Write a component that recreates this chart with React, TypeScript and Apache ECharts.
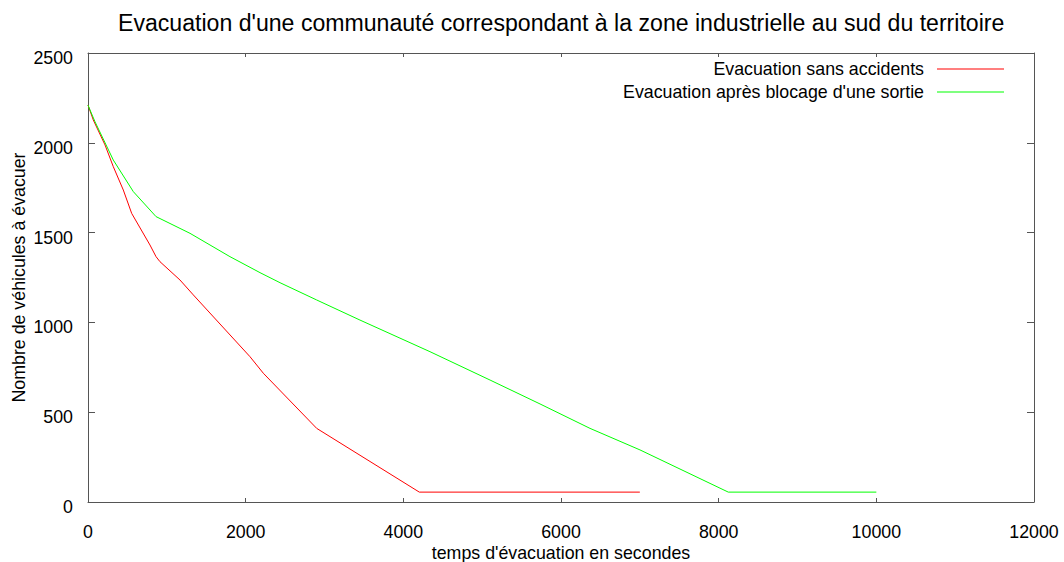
import React, { useEffect, useRef } from "react";
import * as echarts from "echarts";

const titleText = "Evacuation d'une communauté correspondant à la zone industrielle au sud du territoire";
const xAxisTitle = "temps d'évacuation en secondes";
const yAxisTitle = "Nombre de véhicules à évacuer";
const seriesNames = ["Evacuation sans accidents", "Evacuation après blocage d'une sortie"];

// Evacuation without accidents: [seconds, vehicles remaining]
const redX = [0, 67, 216, 321, 448, 554, 786, 863, 913, 1167, 1336, 2055, 2224, 2901, 4203, 7000];
const redY = [2210, 2127, 1988, 1867, 1737, 1607, 1431, 1366, 1338, 1236, 1153, 809, 717, 410, 55, 55];

// Evacuation after blocking of one exit
const greenX = [0, 25, 89, 321, 575, 863, 1294, 1801, 2182, 2436, 2900, 3450, 4338, 5100, 5734, 6368, 7002, 8122, 10000];
const greenY = [2210, 2183, 2117, 1904, 1728, 1589, 1496, 1366, 1277, 1221, 1125, 1013, 837, 679, 546, 410, 290, 55, 55];

const xMin = 0, xMax = 12000, xStep = 2000;
const yMin = 0, yMax = 2500, yStep = 500;

const FONT = "'Liberation Sans', Arial, sans-serif";
const AXIS_COLOR = "#555555";
const FS = 17.8;

export default function App() {
  const ref = useRef<HTMLDivElement>(null);
  useEffect(() => {
    if (!ref.current) return;
    const chart = echarts.init(ref.current, null, { renderer: "svg" });
    const zip = (xs: number[], ys: number[]) => xs.map((x, i) => [x, ys[i]]);
    const axisLine = { show: true, onZero: false, lineStyle: { color: AXIS_COLOR, width: 1 } };
    const plain = (v: number) => String(v);
    chart.setOption({
      animation: false,
      backgroundColor: "#ffffff",
      textStyle: { fontFamily: FONT, color: "#000" },
      title: {
        text: titleText,
        left: 113,
        top: 6,
        textStyle: { fontFamily: FONT, fontSize: 23.1, fontWeight: "normal", color: "#000" },
      },
      legend: {
        orient: "vertical",
        right: 55,
        top: 55,
        align: "right",
        itemWidth: 67,
        itemHeight: 1,
        itemGap: 5,
        icon: "rect",
        textStyle: { fontFamily: FONT, fontSize: FS, color: "#000", padding: [0, 8, 0, 0] },
        data: seriesNames,
      },
      grid: { left: 88, right: 30, top: 53, bottom: 60, containLabel: false, outerBoundsMode: "none" },
      xAxis: [
        {
          type: "value",
          min: xMin,
          max: xMax,
          interval: xStep,
          name: xAxisTitle,
          nameLocation: "middle",
          nameGap: 42,
          nameMoveOverlap: false,
          nameTextStyle: { fontFamily: FONT, fontSize: FS, color: "#000" },
          axisLine,
          axisTick: { show: true, inside: true, length: 4, lineStyle: { color: AXIS_COLOR } },
          axisLabel: { fontFamily: FONT, fontSize: FS, color: "#000", margin: 21, formatter: plain },
          splitLine: { show: false },
        },
        {
          type: "value",
          position: "top",
          min: xMin,
          max: xMax,
          interval: xStep,
          axisLine,
          axisTick: { show: true, inside: true, length: 4, lineStyle: { color: AXIS_COLOR } },
          axisLabel: { show: false },
          splitLine: { show: false },
        },
      ],
      yAxis: [
        {
          type: "value",
          min: yMin,
          max: yMax,
          interval: yStep,
          name: yAxisTitle,
          nameLocation: "middle",
          nameGap: 60,
          nameMoveOverlap: false,
          nameTextStyle: { fontFamily: FONT, fontSize: FS, color: "#000" },
          axisLine,
          axisTick: { show: true, inside: true, length: 7, lineStyle: { color: AXIS_COLOR } },
          axisLabel: {
            fontFamily: FONT,
            fontSize: FS,
            color: "#000",
            margin: 15,
            formatter: (v: number) => "{a|" + String(v) + "}",
            rich: { a: { fontFamily: FONT, fontSize: FS, color: "#000", padding: [10, 0, 0, 0] } },
          },
          splitLine: { show: false },
        },
        {
          type: "value",
          position: "right",
          min: yMin,
          max: yMax,
          interval: yStep,
          axisLine,
          axisTick: { show: true, inside: true, length: 7, lineStyle: { color: AXIS_COLOR } },
          axisLabel: { show: false },
          splitLine: { show: false },
        },
      ],
      series: [
        {
          name: seriesNames[0],
          type: "line",
          xAxisIndex: 0,
          yAxisIndex: 0,
          data: zip(redX, redY),
          showSymbol: false,
          symbol: "none",
          lineStyle: { color: "#ff0000", width: 1 },
          itemStyle: { color: "#ff0000" },
        },
        {
          name: seriesNames[1],
          type: "line",
          xAxisIndex: 0,
          yAxisIndex: 0,
          data: zip(greenX, greenY),
          showSymbol: false,
          symbol: "none",
          lineStyle: { color: "#00ff00", width: 1 },
          itemStyle: { color: "#00ff00" },
        },
      ],
    });
    return () => chart.dispose();
  }, []);
  return (
    <div
      ref={ref}
      style={{ position: "fixed", left: 0, top: 0, width: 1064, height: 562, background: "#fff" }}
    />
  );
}
